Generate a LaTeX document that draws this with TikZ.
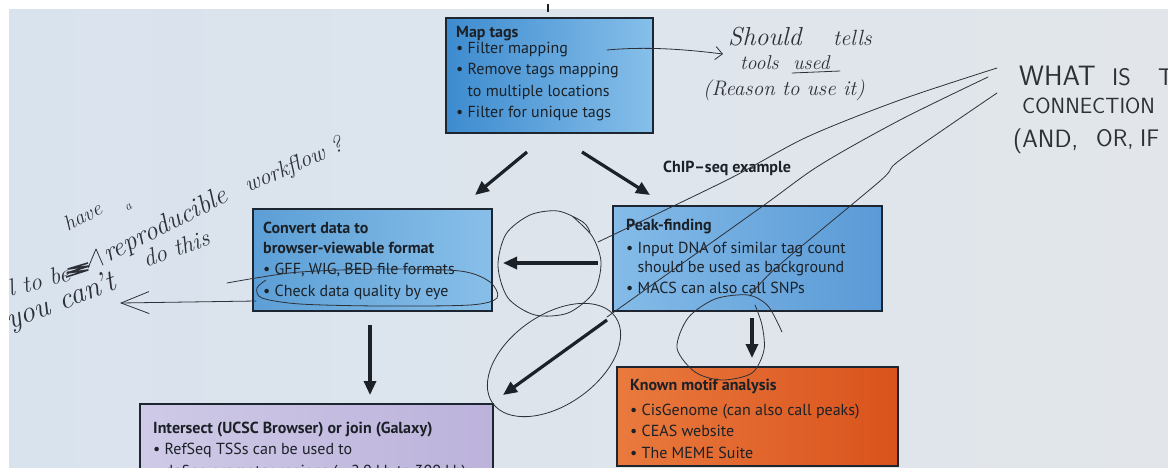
\documentclass[tikz,border=0pt]{standalone}
\usepackage{fontspec}
\newfontfamily\boxfont{PT Sans}
\usetikzlibrary{arrows.meta,shapes.geometric}
\definecolor{paperL}{HTML}{D9E3EE}
\definecolor{paperR}{HTML}{E2E6EA}
\definecolor{ink}{HTML}{1B2127}
\definecolor{boxline}{HTML}{1D2630}
\definecolor{pen}{HTML}{2E3038}
\definecolor{mapL}{HTML}{3D8BCF}
\definecolor{mapR}{HTML}{86BFEA}
\definecolor{cvL}{HTML}{5C9FD6}
\definecolor{cvR}{HTML}{88BFE9}
\definecolor{pkL}{HTML}{84BBE8}
\definecolor{pkR}{HTML}{5A9AD6}
\definecolor{mtL}{HTML}{E97A3E}
\definecolor{mtR}{HTML}{D9521C}
\definecolor{isL}{HTML}{CFCAE7}
\definecolor{isR}{HTML}{BCB2DB}
\newcommand\tstr{\rule{0pt}{13pt}}
\newcommand\bl{\textbullet\ }
\newcommand\ind{\hphantom{\textbullet\ }}
\tikzset{
  box/.style={draw=boxline, line width=2.2pt, rectangle, inner sep=0pt},
  boxtext/.style={anchor=north west, inner sep=0pt, align=left, text=ink, font=\boxfont\fontsize{16}{21.5}\selectfont},
  bigarrow/.style={draw=ink, line width=3.2pt, -{Triangle[length=14pt,width=12pt]}},
  hand/.style={draw=pen, line width=0.8pt, line cap=round, line join=round},
  handtext/.style={text=pen, inner sep=0pt, anchor=base west},
  capstext/.style={text=pen, inner sep=0pt, anchor=base west, font=\sffamily\fontsize{22}{26}\selectfont}
}
\begin{document}
\begin{tikzpicture}[x=1pt,y=-1pt]
\useasboundingbox (0,0) rectangle (1168,467);
\clip (0,0) rectangle (1168,467);
% paper
\fill[white] (0,0) rectangle (1168,467);
\shade[left color=paperL, right color=paperR] (9,9) rectangle (1168,467);

% boxes
\node[box, left color=mapL, right color=mapR, minimum width=207pt, minimum height=115pt] (maptags) at (549.5,75.5) {};
\node[box, left color=cvL, right color=cvR, minimum width=239pt, minimum height=102pt] (convert) at (372.5,260) {};
\node[box, left color=pkL, right color=pkR, minimum width=269pt, minimum height=105pt] (peak) at (747.5,258.5) {};
\node[box, left color=mtL, right color=mtR, minimum width=281pt, minimum height=99pt] (motif) at (757.5,416.5) {};
\node[box, left color=isL, right color=isR, minimum width=353pt, minimum height=110pt] (intersect) at (316.5,459) {};

% box texts
\node[boxtext] (maptagsT) at (456,24) {\tstr{\bfseries Map tags}\\[-5.5pt]
  \bl Filter mapping\\ \bl Remove tags mapping\\ \ind to multiple locations\\ \bl Filter for unique tags};
\node[boxtext] (convertT) at (263,220) {\tstr{\bfseries Convert data to}\\[-1.5pt]
  {\bfseries browser-viewable format}\\ \bl GFF, WIG, BED file formats\\ \bl Check data quality by eye};
\node[boxtext] (peakT) at (626,217) {\tstr{\bfseries Peak-finding}\\[1.5pt]
  \bl Input DNA of similar tag count\\[-2.5pt] \ind should be used as background\\ \bl MACS can also call SNPs};
\node[boxtext] (motifT) at (630,377) {\tstr{\bfseries Known motif analysis}\\[3.5pt]
  \bl CisGenome (can also call peaks)\\ \bl CEAS website\\ \bl The MEME Suite};
\node[boxtext] (intersectT) at (153,420) {\tstr{\bfseries Intersect (UCSC Browser) or join (Galaxy)}\\
  \bl RefSeq TSSs can be used to\\ \ind define promoter regions ($-$2.0 kb to 300 kb)};
\node[anchor=base west, inner sep=0pt, text=ink, font=\boxfont\bfseries\fontsize{16}{20}\selectfont] (chip) at (663,172) {ChIP–seq example};

% printed arrows
\coordinate (topA) at (548,4); \coordinate (topB) at (548,12);
\draw[ink, line width=2.6pt] (topA) -- (topB);
\coordinate (a1s) at (527,152); \coordinate (a1e) at (475,195);
\coordinate (a2s) at (582,152); \coordinate (a2e) at (650,195);
\coordinate (a3s) at (598,263); \coordinate (a3e) at (503,263);
\coordinate (a4s) at (370,325); \coordinate (a4e) at (370,395);
\coordinate (a5s) at (607,320); \coordinate (a5e) at (503,395);
\coordinate (a6s) at (752,318); \coordinate (a6e) at (752,358);
\draw[bigarrow] (a1s) -- (a1e);
\draw[bigarrow] (a2s) -- (a2e);
\draw[bigarrow] (a3s) -- (a3e);
\draw[bigarrow] (a4s) -- (a4e);
\draw[bigarrow] (a5s) -- (a5e);
\draw[bigarrow] (a6s) -- (a6e);

% handwritten notes: top
\coordinate (fms) at (607,50); \coordinate (fme) at (723,54);
\draw[hand, -{Straight Barb[length=7pt,width=13pt]}] (fms) .. controls (650,46) and (690,50) .. (fme);
\node[handtext, font=\itshape\fontsize{26}{28}\selectfont] (should) at (728,45) {Should};
\node[handtext, font=\itshape\fontsize{22}{26}\selectfont] (tells) at (833,45) {tells};
\node[handtext, font=\itshape\fontsize{20}{22}\selectfont] (tools) at (740,69) {tools};
\node[handtext, font=\itshape\fontsize{20}{22}\selectfont] (used) at (793,69) {used};
\coordinate (ulA) at (792,73); \coordinate (ulB) at (840,71);
\draw[hand] (ulA) -- (ulB);
\node[handtext, font=\itshape\fontsize{21}{24}\selectfont] (reason) at (703,95) {(Reason to use it)};

% handwritten notes: right
\node[capstext, font=\sffamily\fontsize{28}{30}\selectfont] (what) at (1019,85) {WHAT};
\node[capstext, font=\sffamily\fontsize{24}{26}\selectfont] (is) at (1112,85) {IS};
\node[capstext, font=\sffamily\fontsize{24}{26}\selectfont] (the) at (1158,85) {THE};
\node[capstext] (conn) at (1022,113) {CONNECTION};
\node[capstext, font=\sffamily\fontsize{25}{28}\selectfont] (and) at (1013,147) {(AND,};
\node[capstext, font=\sffamily\fontsize{24}{28}\selectfont] (or) at (1096,146) {OR,};
\node[capstext, font=\sffamily\fontsize{24}{28}\selectfont] (if) at (1140,146) {IF};
\draw[hand] plot[smooth] coordinates {(997,68) (900,100) (807,137) (727,180) (598,242)};
\draw[hand] plot[smooth] coordinates {(988,77) (900,120) (820,165) (760,208) (607,317)};
\draw[hand] plot[smooth] coordinates {(997,93) (900,160) (880,181) (777,267) (750,296)};

% circles round arrows
\draw[hand] plot[smooth] coordinates {(572,216) (592,236) (601,262) (594,292) (568,313) (535,315) (508,298) (498,266) (506,234) (530,215) (558,211) (583,222) (590,232)};
\draw[hand, rotate around={35:(554,360)}] (554,360) ellipse [x radius=75pt, y radius=45pt];
\draw[hand] plot[smooth] coordinates {(782,332) (768,306) (748,295) (715,299) (688,318) (677,348) (695,372) (722,380) (752,373) (764,350) (762,325) (755,305)};

% ellipse round "Check data quality by eye" and arrow to the left
\draw[hand] plot[smooth] coordinates {(227,283) (256,278) (300,272) (380,269) (460,271) (490,282) (497,298) (470,305) (380,306) (300,304) (262,298) (257,288) (266,280)};
\coordinate (las) at (256,301); \coordinate (lae) at (120,303);
\draw[hand, -{Straight Barb[length=28pt,width=22pt]}] (las) -- (lae);

% handwritten notes: left
\node[handtext, rotate=28, font=\itshape\fontsize{21}{24}\selectfont] (have) at (68,232) {have};
\node[handtext, rotate=30, font=\itshape\fontsize{13}{14}\selectfont] (aa) at (127,212) {a};
\node[handtext, rotate=15, font=\itshape\fontsize{24}{28}\selectfont] (lto) at (10,297) {l to be};
\draw[pen, line width=1.6pt, line join=round] (66,277) -- (88,270) -- (67,273) -- (89,266) -- (68,269) -- (88,263);
\coordinate (ca) at (88,268); \coordinate (cb) at (96,249); \coordinate (cc) at (103,265);
\draw[hand] (ca) -- (cb) -- (cc);
\node[handtext, rotate=27, font=\itshape\fontsize{27}{30}\selectfont] (repro) at (108,263) {reproducible};
\node[handtext, rotate=24, font=\itshape\fontsize{23}{26}\selectfont] (wflow) at (248,193) {workflow ?};
\node[handtext, rotate=21, font=\itshape\fontsize{30}{32}\selectfont] (youcant) at (10,330) {you can't};
\node[handtext, rotate=20, font=\itshape\fontsize{24}{28}\selectfont] (dothis) at (146,268) {do this};
\end{tikzpicture}
\end{document}
